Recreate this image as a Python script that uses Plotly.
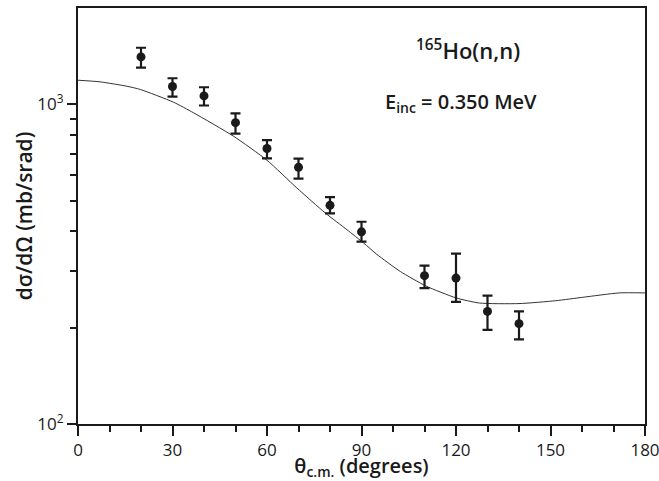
import plotly.graph_objects as go

# Experimental data
theta_exp = [20, 30, 40, 50, 60, 70, 80, 90, 110, 120, 130, 140]
sigma_exp = [1406, 1136, 1062, 876, 727, 635, 483, 399, 291, 286, 225, 206]
err_plus = [96, 70, 68, 61, 45, 41, 29, 30, 22, 55, 27, 19]
err_minus = [104, 79, 71, 67, 50, 50, 27, 27, 25, 45, 28, 22]

# Calculated curve
theta_calc = [0, 7, 15.6, 19.8, 30.3, 36.7, 49.4, 60, 69.5, 78.5, 85.4, 90.7, 94.9,
              102.3, 110.5, 120, 127.4, 140, 151.7, 160.2, 171.8, 180]
sigma_calc = [1189, 1175, 1138, 1112, 1015, 940, 794, 668, 547, 457, 405, 368, 339,
              300, 270, 248, 239, 238, 243, 249, 257, 257]

# Axis ticks
x_major = [0, 30, 60, 90, 120, 150, 180]
x_minor = [0, 10, 20, 30, 40, 50, 60, 70, 80, 90, 100, 110, 120, 130, 140, 150, 160, 170, 180]
y_major = [100, 1000]
y_major_text = ["10<sup>2</sup>", "10<sup>3</sup>"]
y_minor = [200, 300, 400, 500, 600, 700, 800, 900]

FONT = "Open Sans"
INK = "#1a1a1a"
XRANGE = [0, 180]
YRANGE = [2, 3.301]

fig = go.Figure()
fig.add_trace(go.Scatter(
    x=theta_calc, y=sigma_calc, mode="lines",
    line=dict(color="#333333", width=1, shape="spline", smoothing=0.6),
    hoverinfo="skip", showlegend=False))
fig.add_trace(go.Scatter(
    x=theta_exp, y=sigma_exp, mode="markers",
    marker=dict(color=INK, size=9),
    error_y=dict(type="data", symmetric=False, array=err_plus, arrayminus=err_minus,
                 color=INK, thickness=2.2, width=5),
    showlegend=False))
# invisible trace carrying the major-tick overlay axes
fig.add_trace(go.Scatter(x=[None], y=[None], xaxis="x2", yaxis="y2", mode="markers",
                         showlegend=False, hoverinfo="skip"))

fig.add_annotation(x=0.688, y=0.90, xref="paper", yref="paper",
                   xanchor="center", yanchor="middle",
                   text="<sup>165</sup>Ho(n,n)", showarrow=False,
                   font=dict(family=FONT, size=22, color=INK, weight=600))
fig.add_annotation(x=0.676, y=0.772, xref="paper", yref="paper",
                   xanchor="center", yanchor="middle",
                   text="E<sub>inc</sub> = 0.350 MeV", showarrow=False,
                   font=dict(family=FONT, size=20, color=INK, weight=600))

fig.update_layout(
    width=659, height=481,
    margin=dict(l=78, r=14, t=8, b=57),
    paper_bgcolor="white", plot_bgcolor="white",
    font=dict(family=FONT, size=17, color=INK),
    xaxis=dict(range=XRANGE, tickmode="array", tickvals=x_minor, showticklabels=False,
               ticks="outside", ticklen=6, tickwidth=2, tickcolor=INK, automargin=False,
               showline=True, linewidth=2, linecolor=INK, mirror=True,
               showgrid=False, zeroline=False),
    xaxis2=dict(range=XRANGE, overlaying="x", side="bottom", anchor="y",
                tickmode="array", tickvals=x_major, ticklabeloverflow="allow",
                ticks="outside", ticklen=11, tickwidth=2, tickcolor=INK, automargin=False,
                showline=False, showgrid=False, zeroline=False,
                tickfont=dict(family=FONT, size=17, color=INK),
                title=dict(text="θ<sub>c.m.</sub> (degrees)", standoff=8,
                           font=dict(family=FONT, size=20, weight=600))),
    yaxis=dict(type="log", range=YRANGE, automargin=False,
               tickmode="array", tickvals=y_minor, showticklabels=False,
               ticks="outside", ticklen=6, tickwidth=2, tickcolor=INK,
               showline=True, linewidth=2, linecolor=INK, mirror=True,
               showgrid=False, zeroline=False,
               title=dict(text="dσ/dΩ (mb/srad)", standoff=32,
                          font=dict(family=FONT, size=21, weight=600))),
    yaxis2=dict(type="log", range=YRANGE, overlaying="y", side="left", anchor="x",
                tickmode="array", tickvals=y_major, ticktext=y_major_text, automargin=False,
                ticks="outside", ticklen=10, tickwidth=2, tickcolor=INK,
                showline=False, showgrid=False, zeroline=False,
                tickfont=dict(family=FONT, size=17, color=INK)),
)

fig.write_html("out.html")
